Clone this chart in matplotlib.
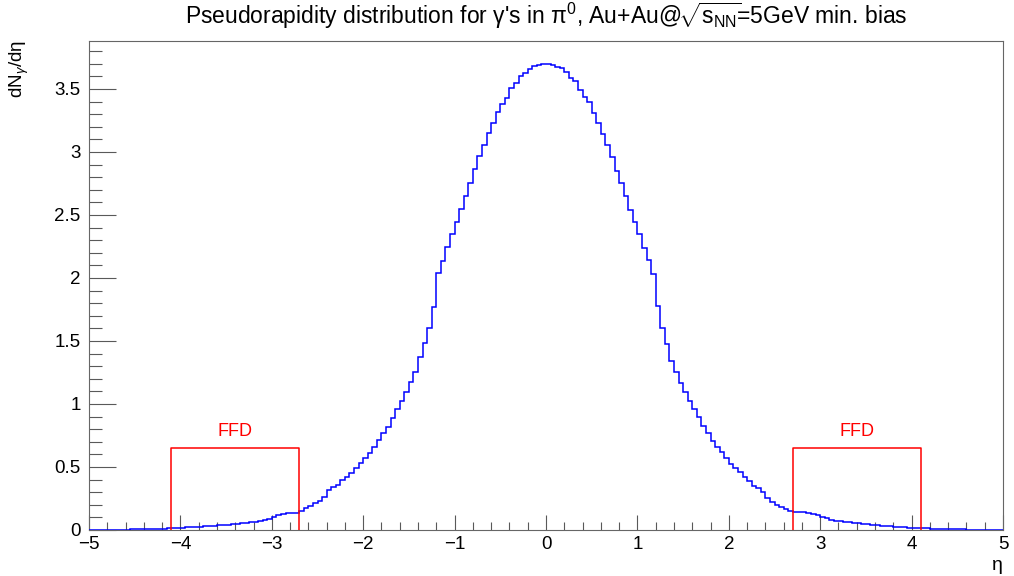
import matplotlib
matplotlib.use("Agg")
import matplotlib.pyplot as plt
import numpy as np
from matplotlib.ticker import MultipleLocator, FuncFormatter

plt.rcParams['font.family'] = ['Liberation Sans', 'DejaVu Sans']
plt.rcParams['mathtext.fontset'] = 'custom'
plt.rcParams['mathtext.rm'] = 'Liberation Sans'
plt.rcParams['mathtext.it'] = 'Liberation Sans:italic'

# --- data: 200 bins of width 0.05 from -5 to 5 ---
eta_min, eta_max, n_bins = -5.0, 5.0, 200
dn_deta = [
    0, 0, 0, 0, 0, 0, 0.001, 0.002, 0.003, 0.004,
    0.005, 0.006, 0.007, 0.008, 0.009, 0.010, 0.011, 0.012, 0.014, 0.016,
    0.018, 0.020, 0.022, 0.024, 0.026, 0.028, 0.030, 0.033, 0.036, 0.039,
    0.042, 0.045, 0.048, 0.052, 0.056, 0.061, 0.066, 0.072, 0.079, 0.087,
    0.104, 0.116, 0.130, 0.136, 0.138, 0.138, 0.153, 0.172, 0.190, 0.212,
    0.233, 0.259, 0.317, 0.339, 0.357, 0.397, 0.423, 0.455, 0.489, 0.529,
    0.569, 0.614, 0.661, 0.714, 0.772, 0.820, 0.891, 0.960, 1.026, 1.098,
    1.172, 1.257, 1.370, 1.487, 1.601, 1.772, 2.037, 2.137, 2.243, 2.347,
    2.447, 2.550, 2.653, 2.751, 2.865, 2.968, 3.056, 3.148, 3.232, 3.315,
    3.381, 3.431, 3.505, 3.545, 3.603, 3.629, 3.661, 3.680, 3.692, 3.698,
    3.695, 3.688, 3.678, 3.664, 3.638, 3.585, 3.566, 3.492, 3.439, 3.394,
    3.307, 3.228, 3.143, 3.056, 2.958, 2.849, 2.751, 2.653, 2.540, 2.447,
    2.347, 2.241, 2.140, 2.035, 1.778, 1.601, 1.476, 1.344, 1.257, 1.164,
    1.093, 1.026, 0.958, 0.894, 0.828, 0.772, 0.706, 0.661, 0.616, 0.569,
    0.524, 0.489, 0.463, 0.423, 0.392, 0.352, 0.331, 0.304, 0.257, 0.225,
    0.198, 0.180, 0.164, 0.148, 0.146, 0.145, 0.142, 0.135, 0.125, 0.118,
    0.105, 0.095, 0.083, 0.075, 0.070, 0.066, 0.062, 0.057, 0.053, 0.049,
    0.045, 0.041, 0.038, 0.034, 0.031, 0.028, 0.025, 0.023, 0.021, 0.019,
    0.017, 0.015, 0.013, 0.012, 0.011, 0.010, 0.009, 0.008, 0.007, 0.006,
    0.005, 0.004, 0.003, 0.002, 0.001, 0, 0, 0, 0, 0,
]
assert len(dn_deta) == n_bins

ffd_ranges = [(-4.1, -2.7), (2.7, 4.1)]
ffd_height = 0.65
ffd_label = "FFD"
ffd_label_y = 0.78

edges = np.linspace(eta_min, eta_max, n_bins + 1)
ymax = 1.05 * max(dn_deta)

# --- figure ---
fig = plt.figure(figsize=(10.14, 5.76), dpi=100)
ax = fig.add_axes([89 / 1014, 46 / 576, 914 / 1014, 489.3 / 576])

ax.stairs(dn_deta, edges, color='blue', linewidth=1.1, zorder=3)

for lo, hi in ffd_ranges:
    ax.plot([lo, lo, hi, hi], [0, ffd_height, ffd_height, 0],
            color='red', linewidth=1.1, zorder=4)
    ax.text((lo + hi) / 2, ffd_label_y, ffd_label, color='red',
            ha='center', va='center', fontsize=13)

ax.set_xlim(eta_min, eta_max)
ax.set_ylim(0, ymax)

fmt = FuncFormatter(lambda v, p: f"{v:g}".replace('-', '\u2212'))
ax.xaxis.set_major_locator(MultipleLocator(1))
ax.xaxis.set_minor_locator(MultipleLocator(0.2))
ax.yaxis.set_major_locator(MultipleLocator(0.5))
ax.yaxis.set_minor_locator(MultipleLocator(0.1))
ax.xaxis.set_major_formatter(fmt)
ax.yaxis.set_major_formatter(fmt)

tick_col = '0.35'
ax.tick_params(axis='both', which='both', direction='in', color=tick_col,
               width=0.8, labelsize=13.5, top=False, right=False)
ax.tick_params(axis='x', which='major', length=10.8, pad=4)
ax.tick_params(axis='x', which='minor', length=5.8)
ax.tick_params(axis='y', which='major', length=19.4, pad=6)
ax.tick_params(axis='y', which='minor', length=9.4)
for s in ax.spines.values():
    s.set_color('0.4')
    s.set_linewidth(0.8)

fig.text(546 / 1014, 1 - 16 / 576,
         "Pseudorapidity distribution for \u03b3's in \u03c0$^{0}$, "
         "Au+Au@$\\!\\sqrt{\\mathrm{s_{NN}}}\\!$=5GeV min. bias",
         ha='center', va='center', fontsize=16.5)
fig.text(19 / 1014, 1 - 40 / 576, "dN$_{\u03b3}$/d\u03b7", rotation=90,
         ha='center', va='top', fontsize=13.5)
fig.text(1003 / 1014, 1 - 565 / 576, "\u03b7", ha='right', va='center',
         fontsize=14)

fig.savefig("out.png", dpi=100)
